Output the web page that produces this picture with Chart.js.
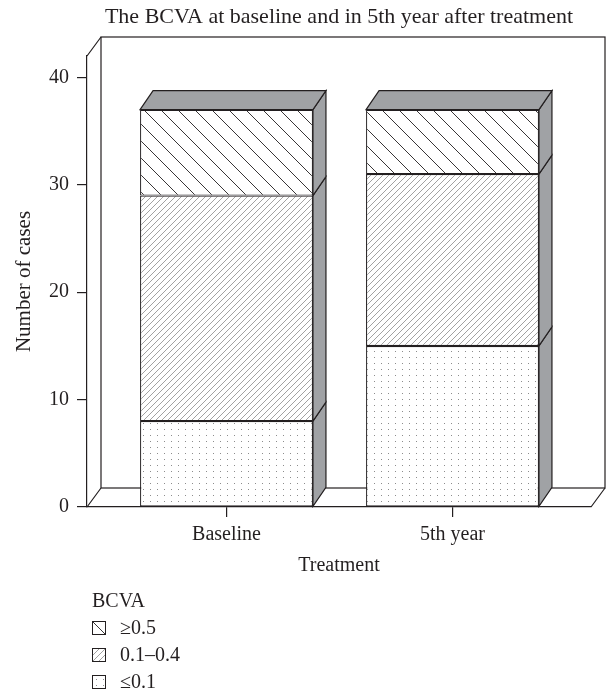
<!DOCTYPE html>
<html>
<head>
<meta charset="utf-8">
<script src="https://cdn.jsdelivr.net/npm/chart.js@4/dist/chart.umd.min.js"></script>
<style>
  body { margin: 0; background: #fff; }
  #wrap { position: relative; width: 608px; height: 694px; }
  #legend { position: absolute; left: 92px; top: 587px; font-family: "Liberation Serif", serif; font-size: 20px; color: #231f20; }
  #legend .row { display: flex; align-items: center; height: 27px; }
  #legend .box { width: 12px; height: 12px; border: 1px solid #231f20; margin-right: 14px; }
</style>
</head>
<body>
<div id="wrap">
  <canvas id="myChart" width="608" height="694"></canvas>
  <div id="legend"></div>
</div>
<script>
// data
const categories = ['Baseline', '5th year'];
const seriesNames = ['≤0.1', '0.1–0.4', '≥0.5'];
const low = [8, 15];
const mid = [21, 16];
const high = [8, 6];
const yTicks = [0, 10, 20, 30, 40];

const ink = '#231f20';
const face = '#a0a2a5';

// hatch / dot fills (white under them so the floor line stays hidden)
function makeTile(kind) {
  const c = document.createElement('canvas');
  const p = c.getContext('2d');
  if (kind === 'wide') {
    c.width = c.height = 17;
    p.fillStyle = '#fff'; p.fillRect(0, 0, 17, 17);
    p.strokeStyle = ink; p.lineWidth = 0.9;
    p.beginPath();
    p.moveTo(-1, -1); p.lineTo(18, 18);
    p.moveTo(-1, 16); p.lineTo(1, 18);
    p.moveTo(16, -1); p.lineTo(18, 1);
    p.stroke();
  } else if (kind === 'fine') {
    c.width = c.height = 6;
    p.fillStyle = '#fff'; p.fillRect(0, 0, 6, 6);
    p.strokeStyle = '#8a8a8a'; p.lineWidth = 0.8;
    p.beginPath();
    p.moveTo(-1, 7); p.lineTo(7, -1);
    p.moveTo(-1, 1); p.lineTo(1, -1);
    p.moveTo(5, 7); p.lineTo(7, 5);
    p.stroke();
  } else {
    c.width = 7; c.height = 6;
    p.fillStyle = '#fff'; p.fillRect(0, 0, 7, 6);
    p.fillStyle = '#8c8c8c';
    p.fillRect(3, 3, 1, 1);
  }
  return c;
}
const tiles = [makeTile('dots'), makeTile('fine'), makeTile('wide')];
const ctx = document.getElementById('myChart');
const fills = tiles.map(t => ctx.getContext('2d').createPattern(t, 'repeat'));

Chart.defaults.font.family = '"Liberation Serif", serif';
Chart.defaults.font.size = 20;
Chart.defaults.color = ink;

function poly(c, pts, fill) {
  c.beginPath();
  c.moveTo(pts[0][0], pts[0][1]);
  for (let i = 1; i < pts.length; i++) c.lineTo(pts[i][0], pts[i][1]);
  c.closePath();
  if (fill) { c.fillStyle = fill; c.fill(); }
  c.stroke();
}

// fake 3d: back wall, floor and bar sides
const depth = {
  id: 'depth',
  beforeDatasetsDraw(chart) {
    const c = chart.ctx, a = chart.chartArea;
    c.save();
    c.strokeStyle = ink; c.lineWidth = 1.2;
    c.strokeRect(a.left + 14, a.top - 19, a.right - a.left, a.bottom - a.top);
    c.beginPath();
    c.moveTo(a.left, a.top); c.lineTo(a.left + 14, a.top - 19);
    c.moveTo(a.left, a.bottom); c.lineTo(a.left + 14, a.bottom - 19);
    c.moveTo(a.right, a.bottom); c.lineTo(a.right + 14, a.bottom - 19);
    c.stroke();
    c.restore();
  },
  afterDatasetsDraw(chart) {
    const c = chart.ctx;
    const last = chart.data.datasets.length - 1;
    c.save();
    c.strokeStyle = ink; c.lineWidth = 1.2; c.lineJoin = 'miter';
    chart.data.datasets.forEach((ds, i) => {
      chart.getDatasetMeta(i).data.forEach(bar => {
        const {x, y, base, width} = bar.getProps(['x', 'y', 'base', 'width'], true);
        const l = x - width / 2, r = x + width / 2;
        poly(c, [[r, y], [r + 13, y - 19], [r + 13, base - 19], [r, base]], face);
        if (i === last) poly(c, [[l, y], [l + 13, y - 19], [r + 13, y - 19], [r, y]], face);
      });
    });
    c.restore();
  }
};

const series = [low, mid, high];
const myChart = new Chart(ctx, {
  type: 'bar',
  data: {
    datasets: series.map((vals, i) => ({
      label: seriesNames[i],
      data: vals.map((v, j) => ({x: j, y: v})),
      backgroundColor: fills[i],
      borderColor: ink,
      borderWidth: 1.2,
      borderSkipped: false,
      stack: 'one',
      barPercentage: 0.765,
      categoryPercentage: 1
    }))
  },
  options: {
    responsive: false,
    animation: false,
    devicePixelRatio: 1,
    layout: { padding: { left: 0, right: 17, top: 0, bottom: 116 } },
    plugins: {
      legend: { display: false },
      tooltip: { enabled: false },
      title: {
        display: true,
        text: 'The BCVA at baseline and in 5th year after treatment',
        fullSize: false,
        color: ink,
        font: { size: 22, weight: 'normal' },
        padding: { top: 4, bottom: 25.6 }
      }
    },
    scales: {
      x: {
        type: 'linear',
        offset: false,
        min: -0.6173,
        max: 1.6128,
        afterBuildTicks: s => { s.ticks = categories.map((c, i) => ({value: i})); },
        ticks: { callback: v => categories[v], padding: 6, color: ink, maxRotation: 0 },
        grid: { offset: false, drawOnChartArea: false, tickLength: 10, color: ink, lineWidth: 1.2 },
        border: { color: ink, width: 1.2 },
        title: { display: true, text: 'Treatment', color: ink, padding: { top: 1, bottom: 0 } }
      },
      y: {
        stacked: true,
        min: 0,
        max: 42,
        afterBuildTicks: s => { s.ticks = yTicks.map(v => ({value: v})); },
        afterFit: s => { s.width = 87; },
        ticks: { padding: 8, color: ink },
        grid: { drawOnChartArea: false, tickLength: 10, color: ink, lineWidth: 1.2 },
        border: { color: ink, width: 1.2 },
        title: { display: true, text: 'Number of cases', color: ink, font: { size: 21 }, padding: { top: 11.4, bottom: 0 } }
      }
    }
  },
  plugins: [depth]
});

// legend below, top series first
const legend = document.getElementById('legend');
const head = document.createElement('div');
head.className = 'row';
head.textContent = 'BCVA';
legend.appendChild(head);
for (let i = series.length - 1; i >= 0; i--) {
  const row = document.createElement('div');
  row.className = 'row';
  const box = document.createElement('span');
  box.className = 'box';
  box.style.backgroundImage = 'url(' + tiles[i].toDataURL() + ')';
  row.appendChild(box);
  row.appendChild(document.createTextNode(seriesNames[i]));
  legend.appendChild(row);
}
</script>
</body>
</html>
